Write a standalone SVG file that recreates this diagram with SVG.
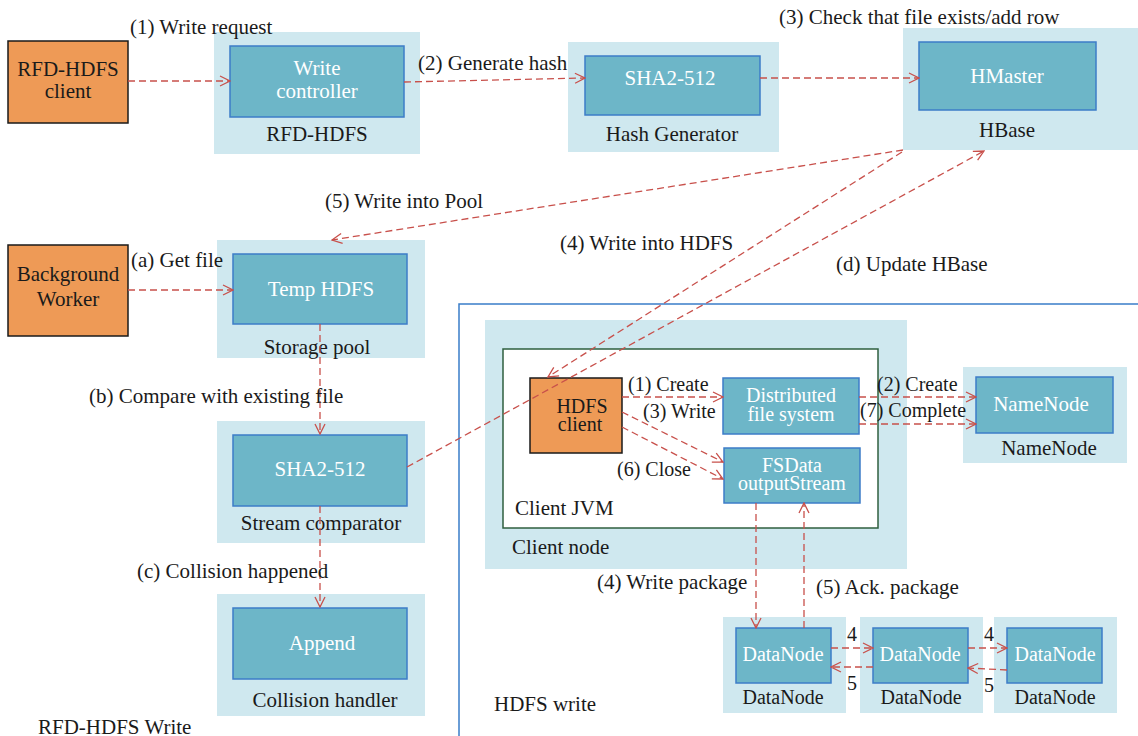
<svg xmlns="http://www.w3.org/2000/svg" width="1138" height="736" viewBox="0 0 1138 736">
<style>
text{font-family:"Liberation Serif","DejaVu Serif",serif;font-size:21px;fill:#1a1a1a}
.mid{text-anchor:middle}
.w{fill:#ffffff;font-size:21px}
.s{font-size:20px}
.panel{fill:#CFE8EF}
.node{fill:#6DB6C8;stroke:#3D7CC8;stroke-width:1.5}
.orange{fill:#EE9A56;stroke:#1a1a1a;stroke-width:1.5}
.c{fill:none;stroke:#C8504B;stroke-width:1.3;stroke-dasharray:7 4;marker-end:url(#ah)}
</style>
<defs>
<marker id="ah" viewBox="0 0 12 12" refX="11" refY="6" markerWidth="12" markerHeight="12" markerUnits="userSpaceOnUse" orient="auto">
<path d="M1,1 L11,6 L1,11" fill="none" stroke="#C8504B" stroke-width="1.3"/>
</marker>
</defs>
<rect width="1138" height="736" fill="#ffffff"/>

<g id="hdfs-write-frame">
<path d="M459,736 L459,304 L1138,304" fill="none" stroke="#3A7DC9" stroke-width="1.5"/>
<text x="494" y="711">HDFS write</text>
</g>

<g id="rfd-client">
<rect class="orange" x="8" y="41" width="120" height="82"/>
<text class="mid" x="68" y="76">RFD-HDFS</text>
<text class="mid" x="68" y="98">client</text>
</g>

<g id="rfd-hdfs">
<rect class="panel" x="214" y="32" width="206" height="122"/>
<rect class="node" x="230" y="46" width="174" height="71"/>
<text class="mid w" x="317" y="75">Write</text>
<text class="mid w" x="317" y="98">controller</text>
<text class="mid" x="317" y="141">RFD-HDFS</text>
</g>

<g id="hash-generator">
<rect class="panel" x="568" y="42" width="211" height="110"/>
<rect class="node" x="585" y="56" width="175" height="59"/>
<text class="mid w" x="670" y="85">SHA2-512</text>
<text class="mid" x="672" y="141">Hash Generator</text>
</g>

<g id="hbase">
<rect class="panel" x="903" y="28" width="235" height="122"/>
<rect class="node" x="919" y="42" width="177" height="68"/>
<text class="mid w" x="1007" y="83">HMaster</text>
<text class="mid" x="1007" y="137">HBase</text>
</g>

<g id="background-worker">
<rect class="orange" x="8" y="245" width="120" height="91"/>
<text class="mid" x="68" y="281">Background</text>
<text class="mid" x="68" y="306">Worker</text>
</g>

<g id="storage-pool">
<rect class="panel" x="217" y="240" width="208" height="118"/>
<rect class="node" x="233" y="254" width="174" height="70"/>
<text class="mid w" x="321" y="296">Temp HDFS</text>
<text class="mid" x="317" y="354">Storage pool</text>
</g>

<g id="stream-comparator">
<rect class="panel" x="217" y="421" width="208" height="122"/>
<rect class="node" x="233" y="435" width="174" height="71"/>
<text class="mid w" x="320" y="476">SHA2-512</text>
<text class="mid" x="321" y="530">Stream comparator</text>
</g>

<g id="collision-handler">
<rect class="panel" x="217" y="594" width="208" height="122"/>
<rect class="node" x="233" y="608" width="174" height="71"/>
<text class="mid w" x="322" y="650">Append</text>
<text class="mid" x="325" y="707">Collision handler</text>
</g>

<g id="client-node">
<rect class="panel" x="485" y="320" width="422" height="249"/>
<text x="512" y="554">Client node</text>
</g>

<g id="client-jvm">
<rect x="503" y="349" width="375" height="179" fill="#ffffff" stroke="#2F5F3F" stroke-width="1.5"/>
<text x="515" y="515">Client JVM</text>
</g>

<g id="hdfs-client">
<rect class="orange" x="530" y="378" width="92" height="75"/>
<text class="mid s" x="582" y="413">HDFS</text>
<text class="mid s" x="580" y="431">client</text>
</g>

<g id="dfs">
<rect class="node" x="723" y="378" width="136" height="56"/>
<text class="mid w s" x="791" y="402">Distributed</text>
<text class="mid w s" x="791" y="421">file system</text>
</g>

<g id="fsdata">
<rect class="node" x="724" y="448" width="136" height="55"/>
<text class="mid w s" x="792" y="472">FSData</text>
<text class="mid w s" x="792" y="490">outputStream</text>
</g>

<g id="namenode">
<rect class="panel" x="963" y="367" width="164" height="96"/>
<rect class="node" x="976" y="377" width="137" height="56"/>
<text class="mid w" x="1041" y="411">NameNode</text>
<text class="mid" x="1049" y="455">NameNode</text>
</g>

<g id="datanode1">
<rect class="panel" x="723" y="617" width="123" height="96"/>
<rect class="node" x="736" y="628" width="95" height="55"/>
<text class="mid w s" x="783" y="661">DataNode</text>
<text class="mid s" x="783" y="704">DataNode</text>
</g>
<g id="datanode2">
<rect class="panel" x="860" y="617" width="123" height="96"/>
<rect class="node" x="873" y="628" width="95" height="55"/>
<text class="mid w s" x="920" y="661">DataNode</text>
<text class="mid s" x="921" y="704">DataNode</text>
</g>
<g id="datanode3">
<rect class="panel" x="994" y="617" width="123" height="96"/>
<rect class="node" x="1007" y="628" width="95" height="55"/>
<text class="mid w s" x="1055" y="661">DataNode</text>
<text class="mid s" x="1055" y="704">DataNode</text>
</g>

<g id="connectors">
<line class="c" x1="128" y1="81" x2="230" y2="81"/>
<line class="c" x1="404" y1="82" x2="585" y2="78"/>
<line class="c" x1="760" y1="78" x2="919" y2="78"/>
<line class="c" x1="903" y1="150" x2="332" y2="240"/>
<line class="c" x1="902" y1="152" x2="548" y2="377"/>
<line class="c" x1="407" y1="467" x2="984" y2="151"/>
<line class="c" x1="128" y1="290" x2="233" y2="290"/>
<line class="c" x1="320" y1="324" x2="320" y2="434"/>
<line class="c" x1="320" y1="506" x2="320" y2="607"/>
<line class="c" x1="622" y1="397" x2="723" y2="397"/>
<line class="c" x1="622" y1="412" x2="723" y2="462"/>
<line class="c" x1="622" y1="427" x2="723" y2="479"/>
<line class="c" x1="859" y1="397" x2="976" y2="397"/>
<line class="c" x1="859" y1="424" x2="976" y2="424"/>
<line class="c" x1="756" y1="503" x2="756" y2="628"/>
<line class="c" x1="804" y1="628" x2="804" y2="503"/>
<line class="c" x1="831" y1="648" x2="873" y2="648"/>
<line class="c" x1="873" y1="667" x2="831" y2="667"/>
<line class="c" x1="968" y1="648" x2="1007" y2="648"/>
<line class="c" x1="1007" y1="670" x2="968" y2="668"/>
</g>

<g id="labels">
<text x="130" y="34">(1) Write request</text>
<text x="418" y="70">(2) Generate hash</text>
<text x="779" y="24">(3) Check that file exists/add row</text>
<text x="325" y="208">(5) Write into Pool</text>
<text x="560" y="250">(4) Write into HDFS</text>
<text x="836" y="271">(d) Update HBase</text>
<text x="131" y="267">(a) Get file</text>
<text x="89" y="403">(b) Compare with existing file</text>
<text x="137" y="578">(c) Collision happened</text>
<text x="38" y="734">RFD-HDFS Write</text>
<text class="s" x="628" y="391">(1) Create</text>
<text class="s" x="643" y="418">(3) Write</text>
<text class="s" x="617" y="476">(6) Close</text>
<text class="s" x="877" y="391">(2) Create</text>
<text class="s" x="860" y="417">(7) Complete</text>
<text x="597" y="589">(4) Write package</text>
<text x="816" y="594">(5) Ack. package</text>
<text class="mid s" x="852" y="641">4</text>
<text class="mid s" x="852" y="690">5</text>
<text class="mid s" x="989" y="641">4</text>
<text class="mid s" x="989" y="692">5</text>
</g>
</svg>
